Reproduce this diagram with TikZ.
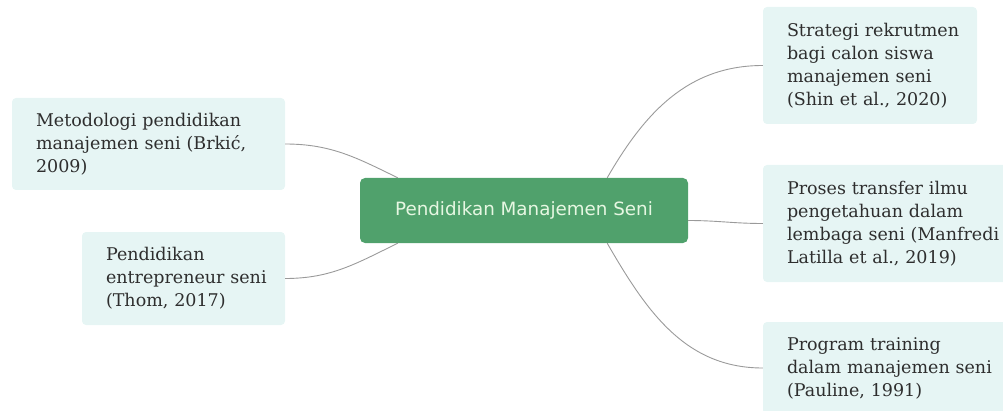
\documentclass[tikz,border=0pt]{standalone}
\usepackage{fontspec}
\setmainfont{DejaVu Serif}
\newfontfamily\centerfont{DejaVu Sans}
\definecolor{boxfill}{HTML}{E6F5F4}
\definecolor{mapgreen}{HTML}{50A16C}
\definecolor{ctext}{HTML}{E6F7E2}
\definecolor{btext}{HTML}{2E2E2E}
\definecolor{linkc}{HTML}{9A9A9A}
\tikzset{
  topicbox/.style={fill=boxfill, rounded corners=4pt, inner xsep=24pt, inner ysep=0pt,
    align=left, text=btext, font=\fontsize{17.5}{23}\selectfont, anchor=center},
  centerbox/.style={fill=mapgreen, rounded corners=5pt, text=ctext,
    font=\centerfont\fontsize{18.3}{20}\selectfont, minimum width=328pt, minimum height=65pt},
  link/.style={draw=linkc, line width=0.9pt}
}
\begin{document}
\begin{tikzpicture}[x=1pt,y=1pt]
\useasboundingbox (0,0) rectangle (1003,410);
\node[centerbox] (c) at (524,199.5) {Pendidikan Manajemen Seni};
\node[topicbox, text width=225pt, minimum height=92pt] (b1) at (148.5,266)
  {\mbox{Metodologi pendidikan}\\\mbox{manajemen seni (Brkić,}\\\mbox{2009)}};
\node[topicbox, text width=155pt, minimum height=93pt] (b2) at (183.5,131.5)
  {\mbox{Pendidikan}\\\mbox{entrepreneur seni}\\\mbox{(Thom, 2017)}};
\node[topicbox, text width=166pt, minimum height=117pt] (b3) at (870,344.5)
  {\mbox{Strategi rekrutmen}\\\mbox{bagi calon siswa}\\\mbox{manajemen seni}\\\mbox{(Shin et al., 2020)}};
\node[topicbox, text width=212pt, minimum height=117pt] (b4) at (893,186.5)
  {\mbox{Proses transfer ilmu}\\\mbox{pengetahuan dalam}\\\mbox{lembaga seni (Manfredi}\\\mbox{Latilla et al., 2019)}};
\node[topicbox, text width=212pt, minimum height=92pt] (b5) at (893,42)
  {\mbox{Program training}\\\mbox{dalam manajemen seni}\\\mbox{(Pauline, 1991)}};
\draw[link] (b1.east) to[out=0,in=154] ([xshift=38pt]c.north west);
\draw[link] (b2.east) to[out=0,in=-154] ([xshift=38pt]c.south west);
\draw[link] ([xshift=-81pt]c.north east) to[out=60,in=180] (b3.west);
\draw[link] ([yshift=-10pt]c.east) to[out=0,in=180] (b4.west);
\draw[link] ([xshift=-81pt]c.south east) to[out=-60,in=180] (b5.west);
\end{tikzpicture}
\end{document}
